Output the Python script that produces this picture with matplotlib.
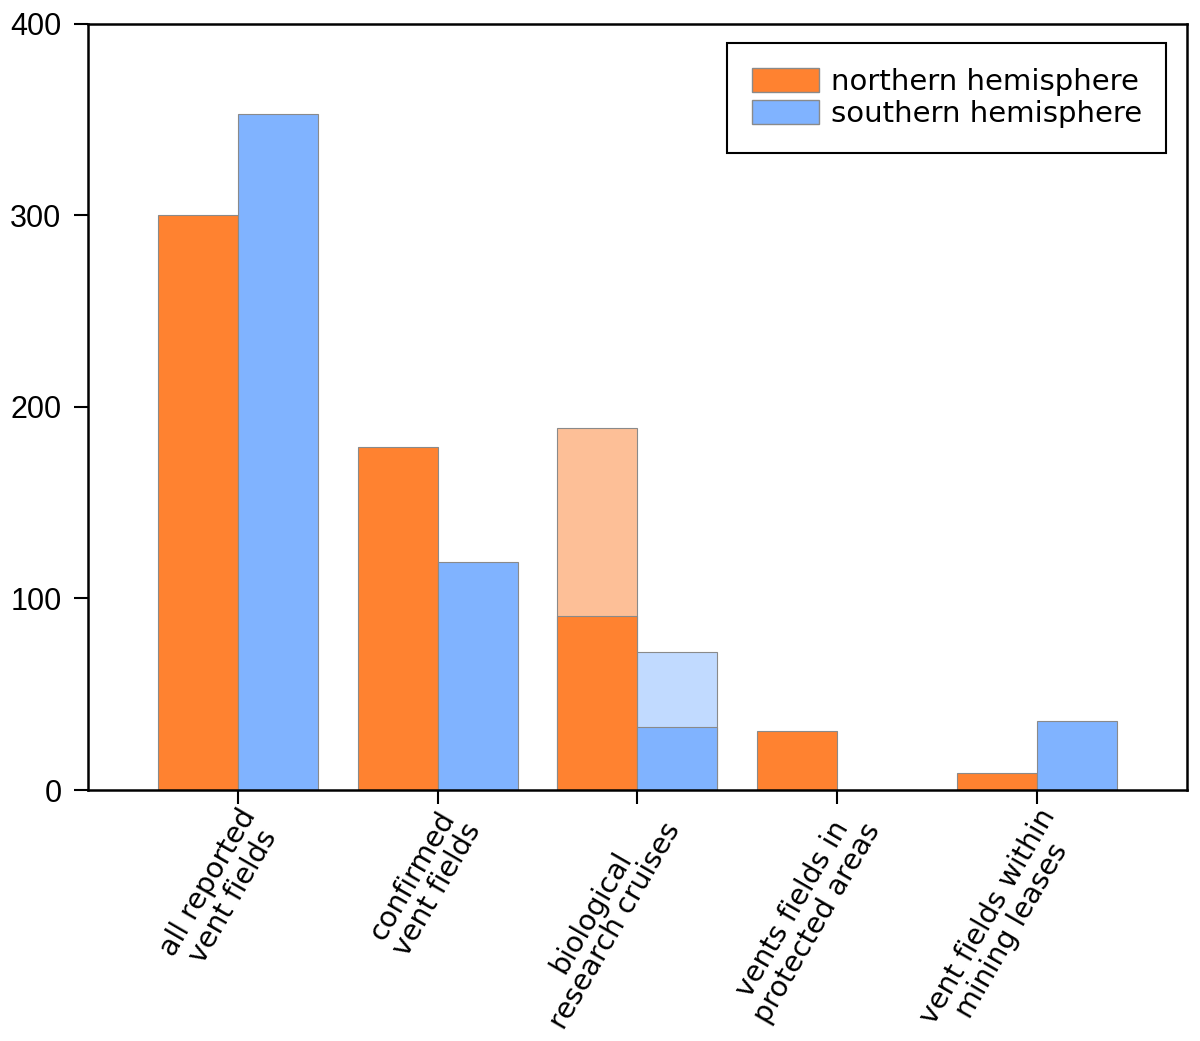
import numpy as np
import matplotlib
matplotlib.use('Agg')
import matplotlib.pyplot as plt
from matplotlib.patches import Patch

# Data
categories = ['all reported\nvent fields', 'confirmed\nvent fields', 'biological\nresearch cruises',
              'vents fields in\nprotected areas', 'vent fields within\nmining leases']
northern = [300, 179, 91, 31, 9]
southern = [353, 119, 33, 0, 36]
# lighter background bars (only biological research cruises)
northern_light = [0, 0, 189, 0, 0]
southern_light = [0, 0, 72, 0, 0]

orange = '#FF8230'
blue = '#80B3FF'
orange_light = '#FDBF97'
blue_light = '#C1DAFF'
edge = '#8a8a8a'

plt.rcParams['font.family'] = ['DejaVu Sans']

fig = plt.figure(figsize=(12, 10.41), dpi=100)
ax = fig.add_axes([0.0733, 0.2411, 0.9157, 0.7359])

x = np.arange(len(categories))
w = 0.4

# light bars first, so the solid ones sit on top
for i in range(len(categories)):
    if northern_light[i] > 0:
        ax.bar(x[i] - w / 2, northern_light[i], w, color=orange_light, edgecolor=edge, linewidth=0.8)
    if southern_light[i] > 0:
        ax.bar(x[i] + w / 2, southern_light[i], w, color=blue_light, edgecolor=edge, linewidth=0.8)

ax.bar(x - w / 2, northern, w, color=orange, edgecolor=edge, linewidth=0.8)
ax.bar(x + w / 2, southern, w, color=blue, edgecolor=edge, linewidth=0.8)

ax.set_xlim(-0.75, 4.75)
ax.set_ylim(0, 400)
ax.set_yticks([0, 100, 200, 300, 400])
ax.tick_params(axis='y', labelsize=22, length=10, width=1.5, direction='out', pad=9)
for t in ax.get_yticklabels():
    t.set_family('Liberation Sans')
ax.tick_params(axis='x', length=10, width=1.5, direction='out', pad=0)
ax.set_xticks(x)
ax.set_xticklabels(categories, rotation=60, ha='right', va='top', rotation_mode='anchor',
                   fontsize=20.5, multialignment='center', linespacing=1.0)
for s in ax.spines.values():
    s.set_linewidth(1.8)

handles = [Patch(facecolor=orange, edgecolor=edge, label='northern hemisphere'),
           Patch(facecolor=blue, edgecolor=edge, label='southern hemisphere')]
leg = ax.legend(handles=handles, loc='upper right', bbox_to_anchor=(0.9815, 0.9755), fontsize=21,
                fancybox=False, framealpha=1, edgecolor='black', handlelength=2.3, handleheight=0.9,
                labelspacing=0.15, borderpad=0.85, handletextpad=0.4, borderaxespad=0)
leg.get_frame().set_linewidth(1.5)

fig.savefig('out.png', dpi=100)
